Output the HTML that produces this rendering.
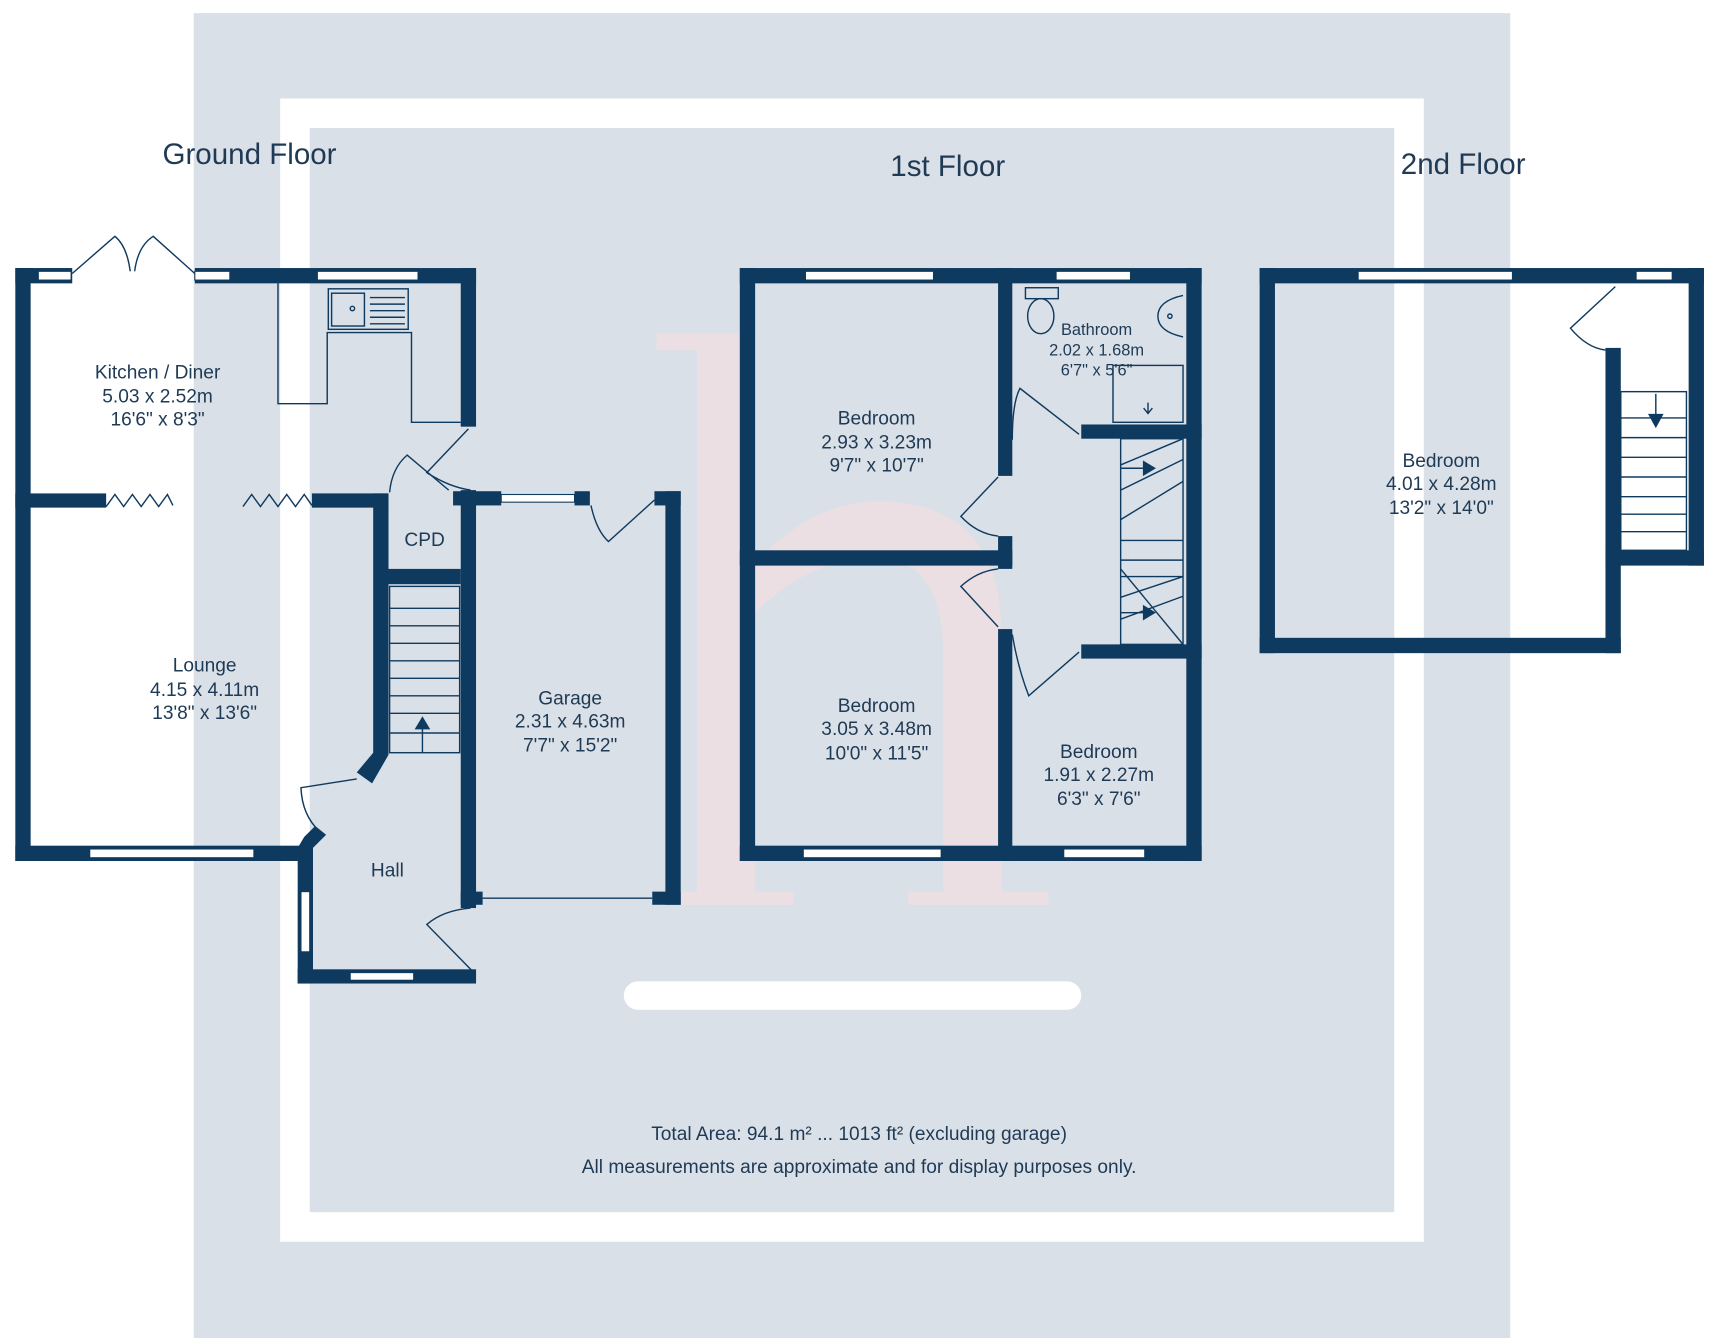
<!DOCTYPE html>
<html><head><meta charset="utf-8"><style>
html,body{margin:0;padding:0;background:#fff;}
svg{display:block;}
text{font-family:"Liberation Sans",sans-serif;fill:#1f3a55;}
</style></head><body>
<svg width="1716" height="1338" viewBox="0 0 1568 1223" preserveAspectRatio="none" xmlns="http://www.w3.org/2000/svg">
<rect width="1568" height="1223" fill="#fff"/>
<rect x="177" y="12" width="1203" height="1211" fill="#dae0e7"/>
<rect x="256" y="90" width="1045" height="1045" fill="#fff"/>
<rect x="283" y="117" width="991" height="991" fill="#dae0e7"/>
<rect x="570" y="897" width="418" height="26" rx="13" fill="#fff"/>
<!-- watermark h -->
<g fill="#ecdfe4">
<path d="M600 305 L690 305 L690 515 Q740 460 800 458 Q915 458 915 580 L915 815 L958 815 L958 827 L830 827 L830 815 L862 815 L862 600 Q862 510 800 510 Q740 510 690 560 L690 815 L725 815 L725 827 L600 827 L600 815 L637 815 L637 320 L600 320 Z"/>
</g>
<g fill="#0f3a5f">
<!-- Ground floor -->
<rect x="14" y="245" width="14" height="542"/>
<rect x="14" y="245" width="52" height="14"/>
<rect x="178" y="245" width="257" height="14"/>
<rect x="421" y="245" width="14" height="145"/>
<rect x="14" y="451" width="83" height="13"/>
<rect x="285" y="451" width="70" height="13"/>
<rect x="341" y="451" width="14" height="239"/>
<polygon points="341,688 355,690 340,716 326,706"/>
<rect x="14" y="773" width="272" height="14"/>
<polygon points="272,775 286,775 298,763 288,755 278,765"/>
<rect x="272" y="775" width="14" height="124"/>
<rect x="272" y="886" width="163" height="13"/>
<rect x="355" y="520" width="66" height="14"/>
<rect x="421" y="448" width="14" height="382"/>
<rect x="414" y="449" width="20" height="13"/>
<rect x="434" y="449" width="24" height="13"/>
<rect x="525" y="449" width="14" height="13"/>
<rect x="598" y="449" width="24" height="13"/>
<rect x="608" y="449" width="14" height="378"/>
<rect x="421" y="815" width="20" height="12"/>
<rect x="596" y="815" width="26" height="12"/>
<!-- 1st floor -->
<rect x="676" y="245" width="422" height="14"/>
<rect x="676" y="245" width="14" height="542"/>
<rect x="1084" y="245" width="14" height="542"/>
<rect x="676" y="773" width="422" height="14"/>
<rect x="912" y="245" width="13" height="190"/>
<rect x="912" y="490" width="13" height="30"/>
<rect x="912" y="575" width="13" height="212"/>
<rect x="676" y="503" width="249" height="14"/>
<rect x="988" y="388" width="110" height="13"/>
<rect x="988" y="589" width="110" height="13"/>
<!-- 2nd floor -->
<rect x="1151" y="245" width="406" height="14"/>
<rect x="1151" y="245" width="14" height="352"/>
<rect x="1151" y="583" width="330" height="14"/>
<rect x="1467" y="318" width="14" height="279"/>
<rect x="1543" y="245" width="14" height="272"/>
<rect x="1467" y="503" width="90" height="14"/>
</g>
<!-- windows -->
<g fill="#fff" stroke="#0f3a5f" stroke-width="1">
<rect x="35" y="248" width="30" height="8"/>
<rect x="178" y="248" width="32" height="8"/>
<rect x="290" y="248" width="92" height="8"/>
<rect x="82" y="776" width="150" height="8"/>
<rect x="275" y="815" width="8" height="55"/>
<rect x="320" y="889" width="58" height="7"/>
<rect x="458" y="452" width="67" height="7"/>
<rect x="736" y="248" width="117" height="8"/>
<rect x="965" y="248" width="68" height="8"/>
<rect x="734" y="776" width="126" height="8"/>
<rect x="972" y="776" width="74" height="8"/>
<rect x="1241" y="248" width="141" height="8"/>
<rect x="1495" y="248" width="33" height="8"/>
</g>
<g fill="none" stroke="#0f3a5f" stroke-width="1.3">
<path d="M254 259 V369 H299 V304 H376 V386 H421"/>
<rect x="300" y="264" width="73" height="37"/>
<rect x="303" y="268" width="30" height="30"/>
<circle cx="322" cy="282" r="2"/>
<path d="M338 272h32M338 278h32M338 284h32M338 290h32M338 296h32"/>
<path d="M66 250 L105 216 Q116 225 119 248 M178 250 L140 216 Q126 225 123 248"/>
<path d="M97 463 L105 452 L113 463 L121 452 L129 463 L137 452 L145 463 L153 452 L158 462"/>
<path d="M222 463 L230 452 L238 463 L246 452 L254 463 L262 452 L270 463 L278 452 L285 462"/>
<path d="M428 392 L390 432 Q410 445 430 448"/>
<path d="M356 450 Q358 428 372 416 L410 448"/>
<rect x="356" y="536" width="64" height="152"/>
<path d="M356 556h64M356 572h64M356 588h64M356 604h64M356 620h64M356 636h64M356 652h64M356 670h64"/>
<path d="M386 688 V660"/>
<polygon points="386,656 380,666 392,666" fill="#0f3a5f"/>
<path d="M326 712 L275 720 Q276 745 292 760"/>
<path d="M431 887 L390 845 Q405 832 430 830"/>
<path d="M540 462 Q545 485 556 495 L598 457"/>
<path d="M441 821 H596"/>
<path d="M925 402 Q925 368 932 355 L986 397"/>
<path d="M912 436 L878 472 Q893 488 912 490"/>
<path d="M912 520 Q893 522 878 536 L912 573"/>
<path d="M925 580 Q930 610 940 636 L986 596"/>
<rect x="937" y="263" width="30" height="10"/>
<ellipse cx="951" cy="289" rx="12" ry="16"/>
<path d="M1081 270 Q1058 275 1058 289 Q1058 303 1081 308"/>
<circle cx="1069" cy="289" r="2"/>
<rect x="1017" y="334" width="64" height="52"/>
<path d="M1049 368v10M1045 373l4 5 4-5"/>
<rect x="1024" y="401" width="57" height="188"/>
<path d="M1024 425 L1081 401 M1024 448 L1081 420 M1024 475 L1081 440 M1024 494 H1081 M1024 512 H1081 M1024 527 H1081 M1024 546 L1081 527 M1024 566 L1081 545 M1024 520 L1081 589"/>
<path d="M1024 428 H1052 M1024 560 H1052"/>
<polygon points="1055,428 1045,422 1045,434" fill="#0f3a5f"/>
<polygon points="1055,560 1045,554 1045,566" fill="#0f3a5f"/>
<path d="M1476 262 L1435 300 Q1450 318 1467 320"/>
<rect x="1481" y="358" width="60" height="145"/>
<path d="M1481 382h60M1481 400h60M1481 418h60M1481 436h60M1481 454h60M1481 470h60M1481 486h60"/>
<path d="M1513 360 V382"/>
<polygon points="1513,390 1507,379 1519,379" fill="#0f3a5f"/>
</g>
<g font-size="17.5" text-anchor="middle">
<text x="228" y="150" font-size="27">Ground Floor</text>
<text x="866" y="161" font-size="27">1st Floor</text>
<text x="1337" y="159" font-size="27">2nd Floor</text>
<text x="144" y="346">Kitchen / Diner</text>
<text x="144" y="368">5.03 x 2.52m</text>
<text x="144" y="389">16'6" x 8'3"</text>
<text x="187" y="614">Lounge</text>
<text x="187" y="636">4.15 x 4.11m</text>
<text x="187" y="657">13'8" x 13'6"</text>
<text x="388" y="499">CPD</text>
<text x="354" y="801">Hall</text>
<text x="521" y="644">Garage</text>
<text x="521" y="665">2.31 x 4.63m</text>
<text x="521" y="687">7'7" x 15'2"</text>
<text x="801" y="388">Bedroom</text>
<text x="801" y="410">2.93 x 3.23m</text>
<text x="801" y="431">9'7" x 10'7"</text>
<text x="1002" y="306" font-size="15">Bathroom</text>
<text x="1002" y="325" font-size="15">2.02 x 1.68m</text>
<text x="1002" y="343" font-size="15">6'7" x 5'6"</text>
<text x="801" y="651">Bedroom</text>
<text x="801" y="672">3.05 x 3.48m</text>
<text x="801" y="694">10'0" x 11'5"</text>
<text x="1004" y="693">Bedroom</text>
<text x="1004" y="714">1.91 x 2.27m</text>
<text x="1004" y="736">6'3" x 7'6"</text>
<text x="1317" y="427">Bedroom</text>
<text x="1317" y="448">4.01 x 4.28m</text>
<text x="1317" y="470">13'2" x 14'0"</text>
<text x="785" y="1042">Total Area: 94.1 m² ... 1013 ft² (excluding garage)</text>
<text x="785" y="1072">All measurements are approximate and for display purposes only.</text>
</g>
</svg>
</body></html>
